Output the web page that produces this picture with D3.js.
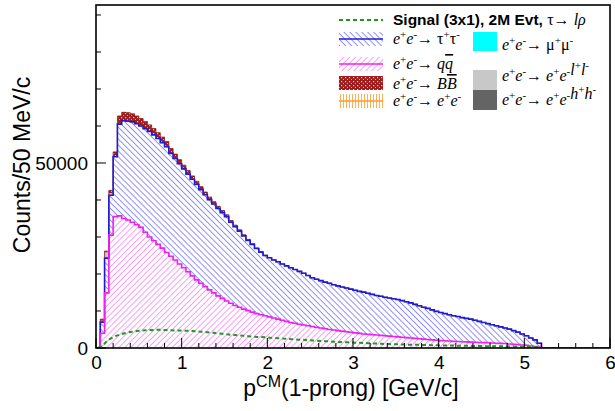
<!DOCTYPE html>
<html><head><meta charset="utf-8">
<script src="https://cdn.jsdelivr.net/npm/d3@7"></script>
<style>body{margin:0;background:#fff}svg{display:block}</style>
</head><body>
<svg id="c" width="615" height="411"></svg>
<script>
// ---------------- data (50 MeV/c bins starting at 0) ----------------
const binWidth = 0.05;
const xTickValues = [0, 1, 2, 3, 4, 5, 6];
const yTickLabels = [0, 50000];
const yMinorStep = 10000;

const qq = [0,4000,14900,30500,35500,35700,35000,34600,34000,33300,
 32600,31300,30000,29000,28000,27000,25800,24800,23800,22700,
 21700,20600,19500,18400,17500,16600,15700,14900,14100,13400,
 12700,12100,11500,11000,10500,10100,9700,9300,9000,8700,
 8400,8100,7800,7500,7200,6900,6700,6400,6200,6000,
 5800,5600,5400,5200,5000,4850,4700,4550,4400,4250,
 4100,3950,3800,3700,3600,3500,3400,3300,3200,3100,
 3000,2900,2800,2700,2600,2500,2400,2300,2200,2100,
 2000,1950,1900,1800,1750,1700,1650,1600,1550,1500,
 1450,1400,1350,1300,1250,1200,1100,1000,900,800,
 700,550,400,250];
const tautau = [0,3000,9400,10800,16200,24800,26400,26700,27100,27300,
 27400,28000,28500,28600,28600,28500,28600,27800,27400,27100,
 26700,26400,26100,25800,25300,24800,24400,24000,23600,23200,
 22800,21900,21300,20600,19800,19000,18300,17600,16900,16300,
 16000,15700,15500,15200,15000,14800,14500,14300,14000,13600,
 13200,13000,12800,12600,12500,12250,12100,11950,11800,11650,
 11500,11350,11300,11100,10900,10700,10600,10400,10300,10200,
 10100,9900,9700,9500,9200,8900,8600,8400,8100,7800,
 7600,7350,7100,6900,6750,6500,6350,6200,5950,5700,
 5450,5200,4950,4700,4450,4200,4000,3700,3400,3000,
 2600,2150,1800,1050];
const bbbar = [0,400,200,700,1100,2200,2300,2300,2200,2100,
 2000,1900,1800,1700,1600,1500,1400,1300,1200,1100,
 1000,950,900,850,800,750,700,650,600,550,
 500,450,400,350,300,250,200,150,100,80,
 60,40,20];
const eeBhabha = [0,100,200,100];
const mumu = [0,0,100,100];
const eell = [0,200,1200,300,200];
const eehh = [0,100,200,100];
const signal = [0,600,1800,2600,3200,3600,3900,4200,4400,4600,
 4700,4800,4850,4900,4900,4900,4850,4800,4750,4700,
 4700,4650,4600,4500,4400,4300,4200,4100,3950,3850,
 3700,3600,3500,3400,3300,3200,3100,3000,2950,2900,
 2800,2700,2650,2550,2500,2400,2350,2250,2200,2100,
 2050,2000,1900,1850,1800,1700,1650,1600,1550,1500,
 1450,1400,1350,1300,1250,1200,1150,1100,1050,1000,
 1000,950,900,900,850,850,800,800,750,750,
 700,700,650,650,600,600,600,550,550,550,
 500,500,500,450,450,450,400,400,350,350,
 300,300,250,200];

// ---------------- setup ----------------
const svg = d3.select('#c');
const X0 = 96, X1 = 610, Y0 = 348, Y1 = 5;
const x = d3.scaleLinear().domain([0, 6]).range([X0, X1]);
const y = d3.scaleLinear().domain([0, 92700]).range([Y0, Y1]);
const nBins = 120;

const defs = svg.append('defs');
function hatch(id, angle, color, spacing, w) {
  const p = defs.append('pattern').attr('id', id).attr('patternUnits', 'userSpaceOnUse')
    .attr('width', spacing).attr('height', spacing).attr('patternTransform', `rotate(${angle})`);
  p.append('line').attr('x1', spacing / 2).attr('y1', 0).attr('x2', spacing / 2).attr('y2', spacing)
    .attr('stroke', color).attr('stroke-width', w);
}
hatch('hBlue', -45, '#8c8cf0', 4.2, 1);
hatch('hPink', 45, '#f49cf4', 4.2, 1);
hatch('hOrange', 0, '#ffb050', 3, 1);
{
  const p = defs.append('pattern').attr('id', 'hBB').attr('patternUnits', 'userSpaceOnUse')
    .attr('width', 4).attr('height', 4);
  p.append('rect').attr('width', 4).attr('height', 4).attr('fill', '#a01c1c');
  p.append('rect').attr('x', 1).attr('y', 1).attr('width', 1.2).attr('height', 1.2).attr('fill', '#f4c8c8');
  p.append('rect').attr('x', 3).attr('y', 3).attr('width', 1).attr('height', 1).attr('fill', '#e8a0a0');
}
defs.append('clipPath').attr('id', 'clip').append('rect')
  .attr('x', X0).attr('y', Y1).attr('width', X1 - X0).attr('height', Y0 - Y1);

// ---------------- stack ----------------
const keys = ['qq', 'tautau', 'eeBhabha', 'mumu', 'eell', 'eehh', 'bbbar'];
const src = {qq, tautau, eeBhabha, mumu, eell, eehh, bbbar};
const rows = d3.range(nBins).map(i => {
  const r = {lo: i * binWidth};
  keys.forEach(k => r[k] = src[k][i] || 0);
  return r;
});
const layers = d3.stack().keys(keys)(rows);
function stepPts(layer) {
  const pts = layer.map(d => ({x: d.data.lo, y0: d[0], y1: d[1]}));
  const last = pts[pts.length - 1];
  pts.push({x: last.x + binWidth, y0: last.y0, y1: last.y1});
  return pts;
}
const area = d3.area().curve(d3.curveStepAfter)
  .x(d => x(d.x)).y0(d => y(d.y0)).y1(d => y(d.y1));
const line = d3.line().curve(d3.curveStepAfter).x(d => x(d.x)).y(d => y(d.y1));

const style = {
  qq: {fill: 'url(#hPink)', stroke: '#f020f0', sw: 1.6},
  tautau: {fill: 'url(#hBlue)', stroke: '#1c1cd8', sw: 1.6},
  eeBhabha: {fill: 'url(#hOrange)', stroke: '#ff9930', sw: 0.8},
  mumu: {fill: '#00ffff', stroke: 'none', sw: 0},
  eell: {fill: '#c8c8c8', stroke: 'none', sw: 0},
  eehh: {fill: '#646464', stroke: 'none', sw: 0},
  bbbar: {fill: 'url(#hBB)', stroke: '#901414', sw: 0.8}
};
const g = svg.append('g').attr('clip-path', 'url(#clip)');
layers.forEach(L => {
  g.append('path').attr('d', area(stepPts(L))).attr('fill', style[L.key].fill).attr('stroke', 'none');
});
[...layers].reverse().forEach(L => {
  const s = style[L.key];
  if (s.stroke === 'none') return;
  g.append('path').attr('d', line(stepPts(L))).attr('fill', 'none')
    .attr('stroke', s.stroke).attr('stroke-width', s.sw);
});
// signal (not stacked)
const sigPts = signal.map((v, i) => ({x: i * binWidth + binWidth / 2, y1: v}));
g.append('path')
  .attr('d', d3.line().x(d => x(d.x)).y(d => y(d.y1))(sigPts))
  .attr('fill', 'none').attr('stroke', '#1e9a1e').attr('stroke-width', 2)
  .attr('stroke-dasharray', '4,3');

// ---------------- axes ----------------
const font = 'Liberation Sans, Arial, Helvetica, sans-serif';
const xAxis = d3.axisBottom(x).tickValues(xTickValues).tickSize(0).tickFormat(d3.format('d'));
const xg = svg.append('g').attr('transform', `translate(0,${Y0})`).call(xAxis);
xg.select('.domain').remove();
xg.selectAll('text').attr('font-family', font).attr('font-size', 19).attr('fill', '#000').attr('dy', '0.95em');
const xMinor = d3.range(0, 6.001, 0.2);
svg.append('g').selectAll('line').data(xMinor).join('line')
  .attr('x1', d => x(d)).attr('x2', d => x(d))
  .attr('y1', Y0).attr('y2', d => Math.abs(d - Math.round(d)) < 1e-6 ? Y0 - 10 : Y0 - 5)
  .attr('stroke', '#000').attr('stroke-width', 1);

const yAxis = d3.axisLeft(y).tickValues(yTickLabels).tickSize(0).tickPadding(8).tickFormat(d3.format('d'));
const yg = svg.append('g').attr('transform', `translate(${X0},0)`).call(yAxis);
yg.select('.domain').remove();
yg.selectAll('text').attr('font-family', font).attr('font-size', 19).attr('fill', '#000');
const yMinor = d3.range(0, 92700, yMinorStep);
svg.append('g').selectAll('line').data(yMinor).join('line')
  .attr('y1', d => y(d)).attr('y2', d => y(d))
  .attr('x1', X0).attr('x2', d => d % 50000 === 0 ? X0 + 10 : X0 + 5)
  .attr('stroke', '#000').attr('stroke-width', 1);

svg.append('rect').attr('x', X0).attr('y', Y1).attr('width', X1 - X0).attr('height', Y0 - Y1)
  .attr('fill', 'none').attr('stroke', '#000').attr('stroke-width', 1.6);

// axis titles
const xt = svg.append('text').attr('x', (X0 + X1) / 2 - 2).attr('y', 396)
  .attr('text-anchor', 'middle').attr('font-family', font).attr('font-size', 23).attr('fill', '#000');
xt.append('tspan').text('p');
xt.append('tspan').attr('dy', -9).attr('font-size', 16).text('CM');
xt.append('tspan').attr('dy', 9).text('(1-prong) [GeV/c]');

svg.append('text').attr('transform', 'translate(30,165) rotate(-90)')
  .attr('text-anchor', 'middle').attr('font-family', font).attr('font-size', 23).attr('fill', '#000')
  .text('Counts/50 MeV/c');

// ---------------- legend ----------------
const serif = 'Liberation Serif, Times New Roman, serif';
const leg = svg.append('g');
function richText(xp, yp, segs) {
  const t = leg.append('text').attr('x', xp).attr('y', yp).attr('font-family', serif)
    .attr('font-size', 16).attr('fill', '#000');
  segs.forEach(s => {
    const ts = t.append('tspan').text(s.t);
    if (s.sup) ts.attr('dy', -6).attr('font-size', 11);
    if (s.down) ts.attr('dy', 6);
    if (s.i) ts.attr('font-style', 'italic');
    if (s.b) ts.attr('font-weight', 'bold');
    if (s.o) ts.style('text-decoration', 'overline');
  });
  return t;
}
const eePre = [{t: 'e', i: 1}, {t: '+', sup: 1}, {t: 'e', i: 1, down: 1}, {t: '-', sup: 1}, {t: '\u2192 ', b: 1, down: 1}];
function pair(a, it) {
  return [{t: a, i: it}, {t: '+', sup: 1}, {t: a, i: it, down: 1}, {t: '-', sup: 1}];
}
// signal entry
leg.append('line').attr('x1', 339).attr('x2', 383).attr('y1', 20).attr('y2', 20)
  .attr('stroke', '#1e9a1e').attr('stroke-width', 2).attr('stroke-dasharray', '4,3');
const st = leg.append('text').attr('x', 393).attr('y', 25).attr('fill', '#000');
st.append('tspan').attr('font-family', font).attr('font-weight', 'bold').attr('font-size', 15.5)
  .text('Signal (3x1), 2M Evt, ');
st.append('tspan').attr('font-family', serif).attr('font-size', 16).text('\u03c4\u2192 ');
st.append('tspan').attr('font-family', serif).attr('font-size', 16).attr('font-style', 'italic').text('l\u03c1');

function hatchSample(yc, fill, stroke) {
  leg.append('rect').attr('x', 339).attr('y', yc - 7).attr('width', 44).attr('height', 14).attr('fill', fill);
  if (stroke) leg.append('line').attr('x1', 339).attr('x2', 383).attr('y1', yc).attr('y2', yc)
    .attr('stroke', stroke).attr('stroke-width', 1.5);
}
hatchSample(39, 'url(#hBlue)', '#1c1cd8');
richText(393, 44, [...eePre, ...pair('\u03c4', 0)]);
hatchSample(64, 'url(#hPink)', '#f020f0');
richText(393, 69, [...eePre, {t: 'q', i: 1}, {t: 'q', i: 1, o: 1}]);
hatchSample(83, 'url(#hBB)', null);
richText(393, 89, [...eePre, {t: 'B', i: 1}, {t: 'B', i: 1, o: 1}]);
hatchSample(101, 'url(#hOrange)', '#ff9930');
richText(393, 106, [...eePre, ...pair('e', 1)]);

function boxSample(y0, h, fill) {
  leg.append('rect').attr('x', 473).attr('y', y0).attr('width', 24).attr('height', h).attr('fill', fill);
}
boxSample(32, 19, '#00ffff');
richText(502, 50, [...eePre, ...pair('\u03bc', 0)]);
boxSample(70, 20, '#c8c8c8');
richText(502, 81, [...eePre, ...pair('e', 1), ...pair('l', 1)]);
boxSample(90, 20, '#646464');
richText(502, 105, [...eePre, ...pair('e', 1), ...pair('h', 1)]);
</script>
</body></html>
